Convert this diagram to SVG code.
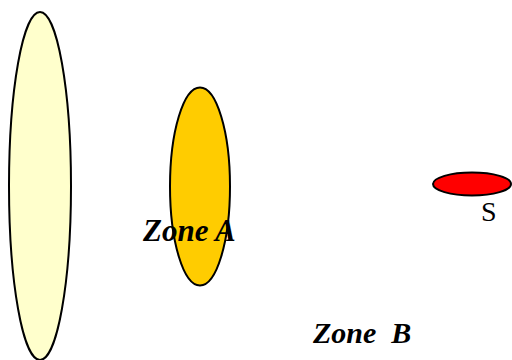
<svg xmlns="http://www.w3.org/2000/svg" width="512" height="360" viewBox="0 0 512 360">
<style>
.shape{stroke:#000;stroke-width:2}
.zone{font-family:"Liberation Serif","Times New Roman",serif;font-weight:bold;font-style:italic;fill:#000}
.lbl{font-family:"Liberation Serif","Times New Roman",serif;fill:#000}
</style>
<rect width="512" height="360" fill="#fff"/>
<g id="outer">
<ellipse class="shape" cx="40" cy="186" rx="31" ry="174" fill="#FFFFCC"/>
</g>
<g id="zoneA">
<ellipse class="shape" cx="200" cy="186.5" rx="30" ry="99" fill="#FFCC00"/>
<text class="zone" x="143" y="241" font-size="31">Zone A</text>
</g>
<g id="source">
<ellipse class="shape" cx="472" cy="184" rx="39" ry="11.5" fill="#FF0000"/>
<text class="lbl" x="481" y="221" font-size="28">S</text>
</g>
<g id="zoneB">
<text class="zone" x="313" y="343" font-size="30" xml:space="preserve" style="white-space:pre">Zone  B</text>
</g>
<g id="connectors"></g>
</svg>
